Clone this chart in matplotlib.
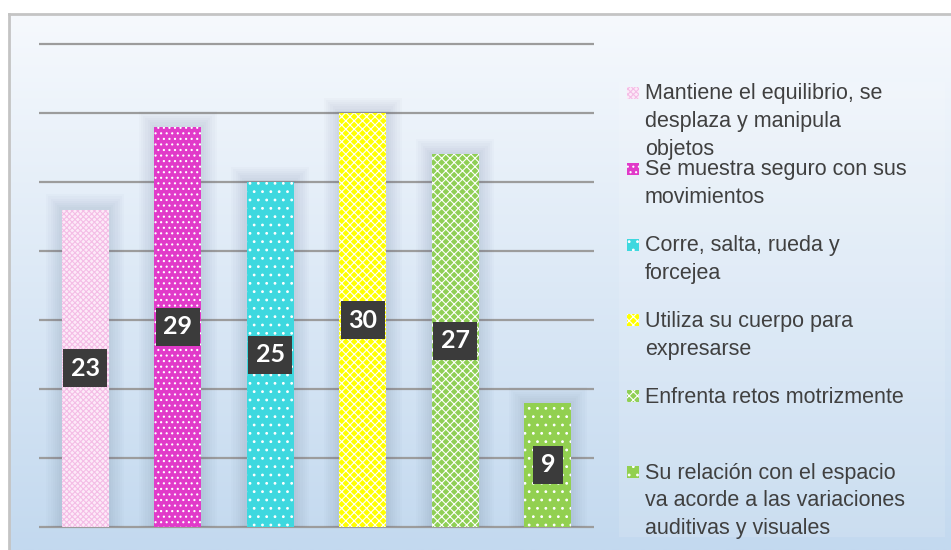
import numpy as np
import matplotlib
matplotlib.use("Agg")
import matplotlib.pyplot as plt
from matplotlib.patches import Rectangle

# chart data
labels = [
    "Mantiene el equilibrio, se\ndesplaza y manipula\nobjetos",
    "Se muestra seguro con sus\nmovimientos",
    "Corre, salta, rueda y\nforcejea",
    "Utiliza su cuerpo para\nexpresarse",
    "Enfrenta retos motrizmente",
    "Su relación con el espacio\nva acorde a las variaciones\nauditivas y visuales",
]
values = [23, 29, 25, 30, 27, 9]

# fill styles (face, hatch colour, hatch)
faces = ["#fdeaf8", "#e13ac9", "#3ed8df", "#ffff00", "#8fcf55", "#92d050"]
hatch_colors = ["#f4bde6", "#ffffff", "#ffffff", "#ffffff", "#ffffff", "#ffffff"]
hatches = ["xxxxxx", "...", "..", "xxxx", "xxxx", ".."]

W, H = 951, 550
plt.rcParams["hatch.linewidth"] = 0.8

fig = plt.figure(figsize=(W / 100, H / 100), dpi=100)
fig.patch.set_facecolor("white")


def fx(x):
    return x / W


def fy(y):
    return 1 - y / H


# background gradient with frame
bg = fig.add_axes([fx(9), 0, 1 - fx(9), fy(14)], zorder=0)
top = np.array([0xf6, 0xf9, 0xfd]) / 255
bot = np.array([0xc3, 0xd9, 0xef]) / 255
t = np.linspace(0, 1, 256)[:, None]
grad = (top[None, :] * (1 - t) + bot[None, :] * t)[:, None, :]
bg.imshow(grad, aspect="auto", extent=[0, 1, 0, 1])
bg.set_xlim(0, 1)
bg.set_ylim(0, 1)
bg.set_xticks([])
bg.set_yticks([])
for s in ["top", "left"]:
    bg.spines[s].set_color("#c4c4c4")
    bg.spines[s].set_linewidth(2)
for s in ["right", "bottom"]:
    bg.spines[s].set_visible(False)

# plot area
pad = 0.2
px_per_unit = (527 - 44) / 35
ax = fig.add_axes([fx(39), fy(527 + pad * px_per_unit), fx(594) - fx(39),
                   (527 - 44 + 2 * pad * px_per_unit) / H], zorder=1)
ax.set_facecolor("none")
x = np.arange(len(values))
width = 0.51

# soft shadows behind bars
for k in range(1, 8):
    dx = k * 2.2 / 92.5
    dy = k * 2.2 / px_per_unit
    ax.bar(x, [v + dy for v in values], width=width + 2 * dx, color="#4a5f7a",
           alpha=0.022, linewidth=0, zorder=1)

bars = ax.bar(x, values, width=width, color=faces, linewidth=0, zorder=3)
for b, hc, h in zip(bars, hatch_colors, hatches):
    b.set_edgecolor(hc)
    b.set_hatch(h)
    b.set_linewidth(0)

ax.set_xlim(-0.5, len(values) - 0.5)
ax.set_ylim(-pad, 35 + pad)
ax.set_yticks(range(0, 36, 5))
ax.yaxis.grid(True, color="#9c9c9c", linewidth=1.6, zorder=0)
ax.set_axisbelow(True)
ax.tick_params(length=0, labelleft=False, labelbottom=False)
for s in ax.spines.values():
    s.set_visible(False)

# data labels in the middle of each bar
for xi, v in zip(x, values):
    ax.text(xi, v / 2, str(v), ha="center", va="center", color="white",
            fontsize=18, fontweight="bold", family="Lato", zorder=5,
            bbox=dict(boxstyle="square,pad=0.3", facecolor="#3b3b3b",
                      edgecolor="none"))

# legend box drawn by hand
fig.patches.append(Rectangle((fx(619), fy(537)), fx(945) - fx(619),
                             fy(82) - fy(537), transform=fig.transFigure,
                             facecolor="white", alpha=0.12, edgecolor="none",
                             zorder=2))
first_y = 93
step = 75.8
for i, lab in enumerate(labels):
    cy = first_y + i * step
    fig.patches.append(Rectangle((fx(627), fy(cy + 6)), fx(12), 12 / H,
                                 transform=fig.transFigure, facecolor=faces[i],
                                 edgecolor=hatch_colors[i], hatch=hatches[i],
                                 linewidth=0, zorder=3))
    fig.text(fx(645), fy(cy - 9.5), lab, ha="left", va="top",
             fontsize=15.5, family="Liberation Sans", color="#404040",
             linespacing=1.42, zorder=4)

fig.savefig("out.png", dpi=100)
